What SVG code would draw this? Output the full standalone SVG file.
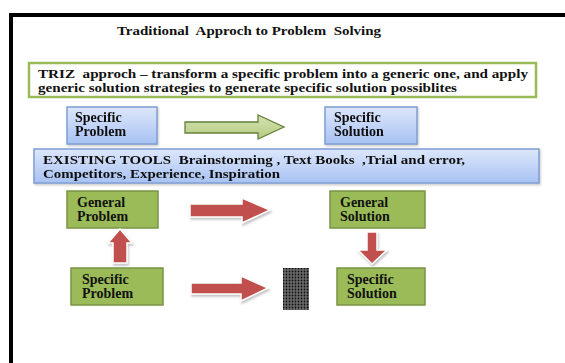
<svg xmlns="http://www.w3.org/2000/svg" width="565" height="363" viewBox="0 0 565 363">
  <style>
    .t { font-family: "Liberation Serif", "Times New Roman", serif; font-weight: bold; fill: #111; white-space: pre; }
    .big { font-size: 13px; }
    .box { font-size: 14px; }
    .blue { fill: url(#blueGrad); stroke: #7f9fd3; stroke-width: 1.5; }
    .green { fill: #9bbb59; stroke: #7a9446; stroke-width: 1.5; }
    .red { fill: #c0504d; stroke: #ffffff; stroke-width: 1.5; filter: url(#soft); }
  </style>
  <defs>
    <linearGradient id="blueGrad" x1="0" y1="0" x2="0" y2="1">
      <stop offset="0" stop-color="#dde7fb"/>
      <stop offset="1" stop-color="#a8c2f3"/>
    </linearGradient>
    <linearGradient id="oliveGrad" x1="0" y1="0" x2="0" y2="1">
      <stop offset="0" stop-color="#d4e2b0"/>
      <stop offset="1" stop-color="#b5cc82"/>
    </linearGradient>
    <filter id="soft" x="-20%" y="-40%" width="140%" height="180%">
      <feDropShadow dx="1" dy="2" stdDeviation="1.2" flood-color="#9a9a9a" flood-opacity="0.6"/>
    </filter>
    <filter id="boxShadow" x="-10%" y="-20%" width="120%" height="140%">
      <feDropShadow dx="1" dy="1.5" stdDeviation="1" flood-color="#888" flood-opacity="0.45"/>
    </filter>
    <pattern id="mesh" width="3" height="3" patternUnits="userSpaceOnUse">
      <rect width="3" height="3" fill="#6a6a6a"/>
      <circle cx="1.5" cy="1.5" r="0.9" fill="#111"/>
    </pattern>
  </defs>

  <!-- slide frame -->
  <rect x="0" y="0" width="565" height="363" fill="#ffffff"/>
  <rect x="11" y="15" width="600" height="400" fill="none" stroke="#000" stroke-width="4"/>

  <!-- title -->
  <text class="t big" x="117" y="35" textLength="264" lengthAdjust="spacingAndGlyphs">Traditional  Approch to Problem  Solving</text>

  <!-- TRIZ statement -->
  <g id="triz">
    <rect x="29" y="63" width="507" height="34" fill="#ffffff" stroke="#9bbb59" stroke-width="2.5"/>
    <text class="t big" x="38" y="78" textLength="490" lengthAdjust="spacingAndGlyphs">TRIZ  approch – transform a specific problem into a generic one, and apply</text>
    <text class="t big" x="38" y="92" textLength="419" lengthAdjust="spacingAndGlyphs">generic solution strategies to generate specific solution possiblites</text>
  </g>

  <!-- first row -->
  <g id="specific-problem-top" filter="url(#boxShadow)">
    <rect class="blue" x="67" y="107" width="90" height="37"/>
    <text class="t box" x="75" y="122">Specific</text>
    <text class="t box" x="75" y="136">Problem</text>
  </g>
  <g id="specific-solution-top" filter="url(#boxShadow)">
    <rect class="blue" x="325" y="107" width="92" height="37"/>
    <text class="t box" x="334" y="122">Specific</text>
    <text class="t box" x="334" y="136">Solution</text>
  </g>

  <!-- existing tools -->
  <g id="existing-tools" filter="url(#boxShadow)">
    <rect class="blue" x="34" y="149" width="505" height="34"/>
    <text class="t big" x="43" y="164" textLength="422" lengthAdjust="spacingAndGlyphs">EXISTING TOOLS  Brainstorming , Text Books  ,Trial and error,</text>
    <text class="t big" x="43" y="178" textLength="237" lengthAdjust="spacingAndGlyphs">Competitors, Experience, Inspiration</text>
  </g>

  <!-- lower rows -->
  <g id="general-problem">
    <rect class="green" x="67" y="191" width="91" height="37"/>
    <text class="t box" x="77" y="207">General</text>
    <text class="t box" x="77" y="221">Problem</text>
  </g>
  <g id="general-solution">
    <rect class="green" x="330" y="191" width="95" height="37"/>
    <text class="t box" x="340" y="207">General</text>
    <text class="t box" x="340" y="221">Solution</text>
  </g>
  <g id="specific-problem">
    <rect class="green" x="71" y="268" width="92" height="37"/>
    <text class="t box" x="82" y="284">Specific</text>
    <text class="t box" x="82" y="298">Problem</text>
  </g>
  <g id="specific-solution">
    <rect class="green" x="337" y="268" width="88" height="37"/>
    <text class="t box" x="347" y="284">Specific</text>
    <text class="t box" x="347" y="298">Solution</text>
  </g>
  <g id="black-box">
    <rect x="283" y="268" width="26" height="42" fill="url(#mesh)"/>
  </g>

  <!-- connectors -->
  <g id="connectors">
    <!-- block arrow, top row -->
    <polygon points="185,122 258,122 258,115 284,127 258,139 258,133 185,133" fill="url(#oliveGrad)" stroke="#66803a" stroke-width="1.3"/>
    <!-- general problem to general solution -->
    <polygon class="red" points="190,204 242,204 242,198 270,210 242,223 242,217 190,217"/>
    <!-- specific problem to black box -->
    <polygon class="red" points="191,283 241,283 241,276 268,288 241,301 241,294 191,294"/>
    <!-- specific problem up to general problem -->
    <polygon class="red" points="113,263 113,243 108,243 120,229 132,243 127,243 127,263"/>
    <!-- general solution down to specific solution -->
    <polygon class="red" points="367,232 377,232 377,250 387,250 372,264 358,250 367,250"/>
  </g>
</svg>
